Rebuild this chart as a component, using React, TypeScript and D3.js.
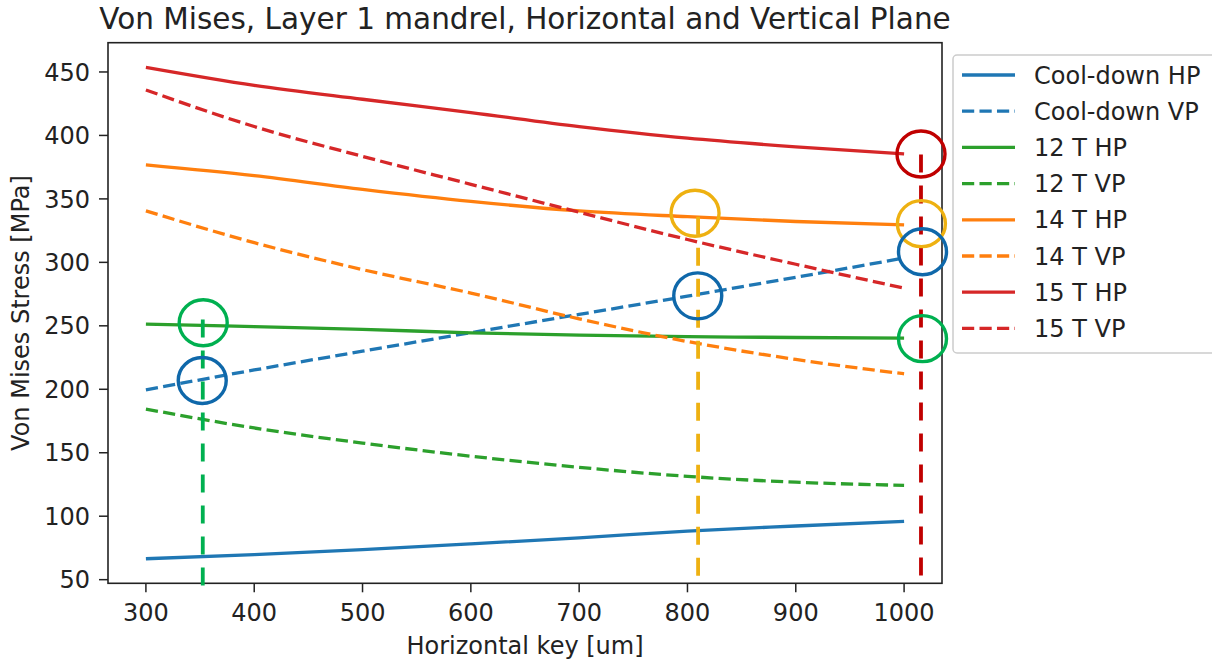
import React from "react";
import * as d3 from "d3";

const keys = [300, 400, 500, 600, 700, 800, 900, 1000];
const coolHP = [66.5, 69.8, 73.7, 78.2, 83.0, 88.3, 92.3, 96.0];
const coolVP = [199.6, 215.2, 230.0, 244.6, 259.0, 273.4, 288.2, 303.4];
const t12HP = [251.4, 249.3, 247.2, 244.5, 242.6, 241.5, 240.8, 240.3];
const t12VP = [184.4, 169.5, 157.6, 147.3, 138.5, 131.4, 126.8, 124.3];
const t14HP = [376.8, 368.3, 357.5, 348.0, 340.5, 336.0, 332.2, 329.5];
const t14VP = [340.6, 315.5, 294.3, 275.8, 255.5, 237.6, 223.5, 212.2];
const t15HP = [453.7, 439.5, 428.5, 418.0, 407.0, 397.8, 391.0, 385.4];
const t15VP = [435.8, 407.0, 383.5, 361.5, 339.5, 318.0, 298.5, 279.7];

const seriesNames = ["Cool-down HP", "Cool-down VP", "12 T HP", "12 T VP", "14 T HP", "14 T VP", "15 T HP", "15 T VP"];
const seriesValues = [coolHP, coolVP, t12HP, t12VP, t14HP, t14VP, t15HP, t15VP];
const seriesColors = ["#1f77b4", "#1f77b4", "#2ca02c", "#2ca02c", "#ff7f0e", "#ff7f0e", "#d62728", "#d62728"];
const seriesDashed = [false, true, false, true, false, true, false, true];

const xTicks = [300, 400, 500, 600, 700, 800, 900, 1000];
const yTicks = [50, 100, 150, 200, 250, 300, 350, 400, 450];

// annotation overlays (data coordinates)
const markerLinesX = [352.5, 809.8, 1015.6];
const markerLinesTop = [255, 336, 385];
const markerLinesColor = ["#00b050", "#eeb111", "#c00000"];

const circleX = [352.9, 352.0, 807.0, 809.5, 1015.6, 1016.0, 1017.0, 1017.0];
const circleY = [252.4, 206.9, 338.7, 273.6, 385.4, 330.5, 308.3, 239.9];
const circleColor = ["#00b050", "#0f68aa", "#eeb111", "#0f68aa", "#c00000", "#eeb111", "#0f68aa", "#00b050"];

const W = 1212;
const H = 663;
const FONT = "DejaVu Sans, sans-serif";

export default function App() {
  const xPad = (1000 - 300) * 0.05;
  const allY = seriesValues.flat();
  const yMin = d3.min(allY) as number;
  const yMax = d3.max(allY) as number;
  const yPad = (yMax - yMin) * 0.05;

  const x = d3.scaleLinear().domain([300 - xPad, 1000 + xPad]).range([108, 942]);
  const y = d3.scaleLinear().domain([yMin - yPad, yMax + yPad]).range([583.3, 42.7]);

  const line = d3
    .line<number>()
    .x((_, i) => x(keys[i]))
    .y((d) => y(d))
    .curve(d3.curveMonotoneX);

  const [x0, x1] = x.range();
  const [yb, yt] = y.range();
  const lw = 3.3;
  const dash = `${3.7 * lw},${1.6 * lw}`;

  const legendX = 953;
  const legendY = 55;
  const rowH = 36.2;
  const fs = 24;

  return (
    <svg
      width={W}
      height={H}
      style={{ position: "absolute", left: 0, top: 0, display: "block", background: "#fff" }}
      fontFamily={FONT}
    >
      <rect x={0} y={0} width={W} height={H} fill="#fff" />
      {/* series */}
      <g>
        {seriesValues.map((vals, i) => (
          <path
            key={i}
            d={line(vals) as string}
            fill="none"
            stroke={seriesColors[i]}
            strokeWidth={lw}
            strokeDasharray={seriesDashed[i] ? dash : undefined}
          />
        ))}
      </g>
      {/* spines */}
      <rect x={x0} y={yt} width={x1 - x0} height={yb - yt} fill="none" stroke="#222" strokeWidth={1.6} />
      {/* x ticks */}
      {xTicks.map((t) => (
        <g key={t}>
          <line x1={x(t)} x2={x(t)} y1={yb} y2={yb + 9} stroke="#222" strokeWidth={1.5} />
          <text x={x(t)} y={620.5} fontSize={fs} textAnchor="middle" fill="#222">
            {t}
          </text>
        </g>
      ))}
      {/* y ticks */}
      {yTicks.map((t) => (
        <g key={t}>
          <line x1={x0 - 9} x2={x0} y1={y(t)} y2={y(t)} stroke="#222" strokeWidth={1.5} />
          <text x={x0 - 18} y={y(t)} dy="0.36em" fontSize={fs} textAnchor="end" fill="#222">
            {t}
          </text>
        </g>
      ))}
      {/* axis labels */}
      <text x={(x0 + x1) / 2} y={653.5} fontSize={fs} textAnchor="middle" fill="#222">
        Horizontal key [um]
      </text>
      <text
        transform={`translate(28.5,${(yb + yt) / 2}) rotate(-90)`}
        fontSize={fs}
        textAnchor="middle"
        fill="#222"
      >
        Von Mises Stress [MPa]
      </text>
      <text x={(x0 + x1) / 2} y={29} fontSize={29.5} textAnchor="middle" fill="#222">
        Von Mises, Layer 1 mandrel, Horizontal and Vertical Plane
      </text>
      {/* annotation overlays */}
      {markerLinesX.map((mx, i) => (
        <line
          key={"ml" + i}
          x1={x(mx)}
          x2={x(mx)}
          y1={y(markerLinesTop[i])}
          y2={587}
          stroke={markerLinesColor[i]}
          strokeWidth={3.8}
          strokeDasharray="18,13"
        />
      ))}
      {circleX.map((cx, i) => (
        <ellipse
          key={"c" + i}
          cx={x(cx)}
          cy={y(circleY[i])}
          rx={24}
          ry={23}
          fill="none"
          stroke={circleColor[i]}
          strokeWidth={3.4}
        />
      ))}
      {/* legend */}
      <rect
        x={legendX}
        y={legendY}
        width={300}
        height={298}
        rx={4}
        fill="#fff"
        fillOpacity={0.8}
        stroke="#cccccc"
        strokeWidth={1.5}
      />
      {seriesNames.map((name, i) => {
        const cy = legendY + 20 + i * rowH;
        return (
          <g key={name}>
            <line
              x1={962}
              x2={1015}
              y1={cy}
              y2={cy}
              stroke={seriesColors[i]}
              strokeWidth={lw}
              strokeDasharray={seriesDashed[i] ? dash : undefined}
            />
            <text x={1034} y={cy} dy="0.36em" fontSize={fs} fill="#222">
              {name}
            </text>
          </g>
        );
      })}
    </svg>
  );
}
